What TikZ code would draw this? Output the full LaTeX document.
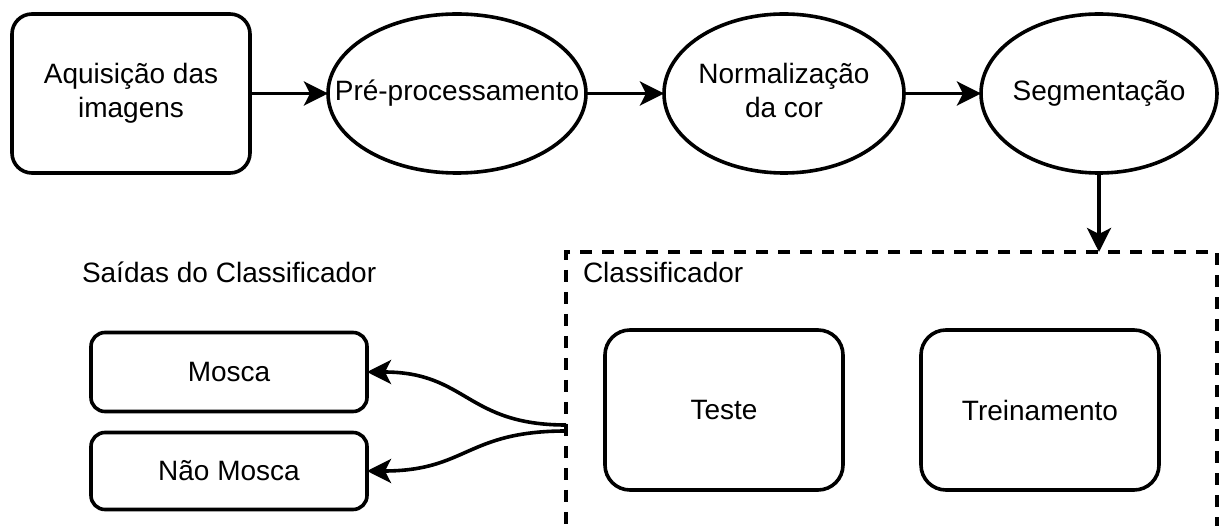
\documentclass[tikz,border=0pt]{standalone}
\usepackage{fontspec}
\setmainfont{Liberation Sans}
\usetikzlibrary{shapes.geometric,arrows.meta}
\newcommand{\ctext}[1]{\makebox[0pt]{\begin{tabular}{@{}c@{}}#1\end{tabular}}}
\begin{document}
\begin{tikzpicture}[x=1pt,y=-1pt,
  every node/.style={font=\fontsize{28}{34}\selectfont, inner sep=0pt, outer sep=0pt},
  rbox/.style={draw, line width=3.6pt, rounded corners=20pt, align=center},
  sbox/.style={draw, line width=3.6pt, rounded corners=14pt, align=center, minimum width=276pt},
  ell/.style={draw, ellipse, line width=3.6pt, minimum height=159pt},
  arr/.style={line width=3.6pt, -{Stealth[length=24pt,width=24pt,inset=6pt]}},
  cbox/.style={draw, line width=3.6pt, dash pattern=on 12pt off 10pt},
  lbl/.style={anchor=west}]
\useasboundingbox (0,0) rectangle (1219,526);
% top row
\node[rbox, minimum width=238pt, minimum height=159pt] (acq) at (131,93.5) {Aquisição das\\imagens};
\node[ell, minimum width=258pt] (pre) at (457,93.5) {\ctext{Pré-processamento}};
\node[ell, minimum width=240pt] (norm) at (784,93.5) {\ctext{Normalização\\da cor}};
\node[ell, minimum width=236pt] (seg) at (1099,93.5) {\ctext{Segmentação}};
\draw[arr] (acq) -- (pre);
\draw[arr] (pre) -- (norm);
\draw[arr] (norm) -- (seg);
% classifier container
\node[cbox, minimum width=651pt, minimum height=352pt] (clf) at (891.5,428) {};
\node[lbl] (clflbl) at (583,272) {Classificador};
\node[rbox, rounded corners=25pt, minimum width=238pt, minimum height=160pt] (teste) at (724,410) {Teste};
\node[rbox, rounded corners=25pt, minimum width=238pt, minimum height=160pt] (trein) at (1040,410) {Treinamento};
\draw[arr] (seg.south) -- (seg.south |- clf.north);
% outputs
\node[lbl] (outlbl) at (82,272) {Saídas do Classificador};
\node[sbox, minimum height=79pt] (mosca) at (229,372) {Mosca};
\node[sbox, minimum height=77pt] (nmosca) at (229,471) {Não Mosca};
\draw[arr] ([yshift=3pt]clf.west) .. controls (466,425) and (467,372) .. (mosca.east);
\draw[arr] ([yshift=-3pt]clf.west) .. controls (466,431) and (467,471) .. (nmosca.east);
\end{tikzpicture}
\end{document}
